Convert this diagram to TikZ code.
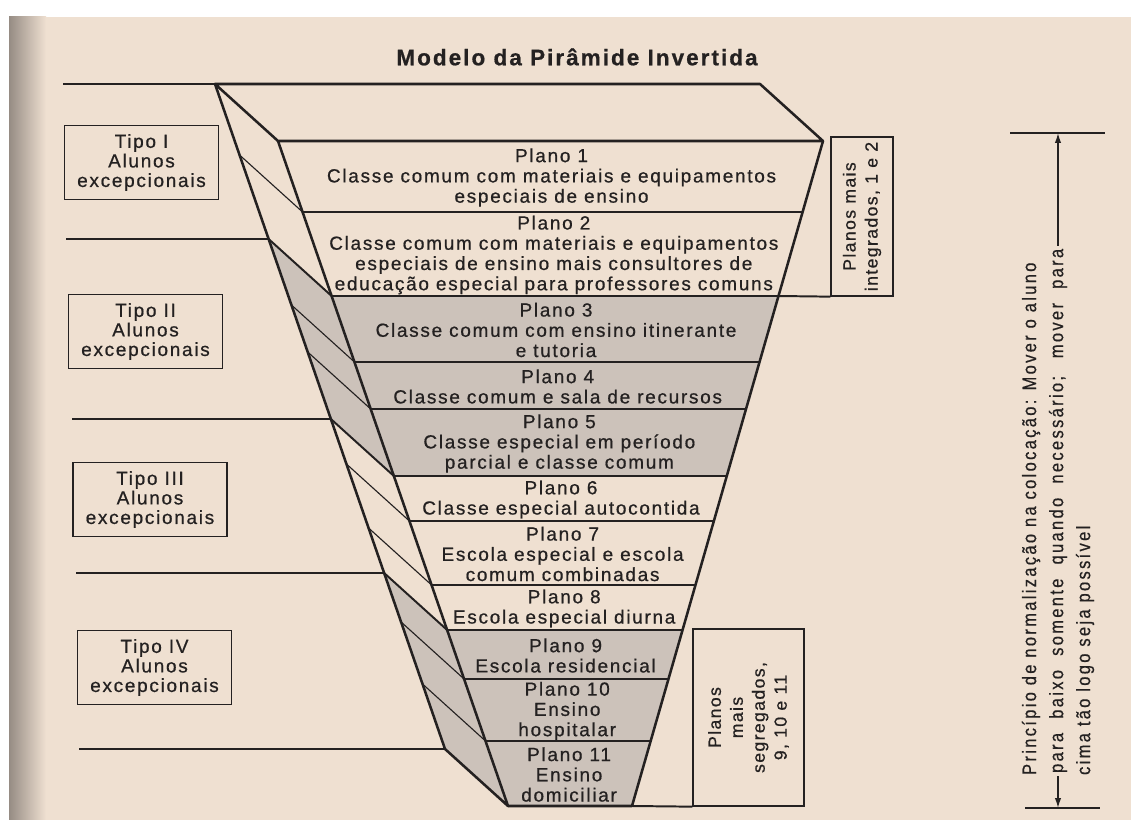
\documentclass[tikz,border=0pt]{standalone}
\usepackage{fontspec}
\setmainfont{Liberation Sans}[LetterSpace=9,FakeBold=0.7]
\newfontfamily\boxfont{Liberation Sans}[LetterSpace=8,FakeBold=0.7]
\newfontfamily\notefont{Liberation Sans}[LetterSpace=12,FakeStretch=0.85,FakeBold=0.5]
\usetikzlibrary{arrows.meta}
\definecolor{paper}{RGB}{239,224,209}
\definecolor{binding}{RGB}{150,140,132}
\definecolor{grayband}{RGB}{204,194,186}
\definecolor{ink}{RGB}{36,33,33}

\begin{document}
\begin{tikzpicture}[x=0.025cm, y=-0.025cm,
  every node/.style={inner sep=0pt, text=ink, align=center},
  edge/.style={draw=ink, line width=1.8pt, line join=round, line cap=round},
  sep/.style={draw=ink, line width=1.4pt},
  thinsep/.style={draw=ink, line width=0.9pt},
  link/.style={draw=ink, line width=0.8pt},
  band/.style={fill=grayband},
  planotext/.style={font=\fontsize{13.5}{14.4}\selectfont},
  tipobox/.style={draw=ink, line width=0.9pt, minimum width=3.85cm, minimum height=1.85cm, font=\fontsize{13.5}{13.9}\selectfont},
  planosbox/.style={draw=ink, line width=0.9pt, rotate=90, font=\boxfont\fontsize{12.5}{15.6}\selectfont},
  notetext/.style={rotate=90, font=\notefont\fontsize{13.8}{14}\selectfont, inner sep=2pt},
  movearrow/.style={draw=ink, line width=1pt, -{Latex[length=7pt,width=4.5pt]}},
]
\useasboundingbox (0,0) rectangle (1131,820);
\fill[paper] (0,0) rectangle (1131,820);
\fill[white] (0,0) rectangle (1131,17);
\fill[white] (0,17) rectangle (9,820);
\shade[left color=binding, right color=paper] (9,17) rectangle (46,820);

\node[font=\bfseries\fontsize{16}{19}\selectfont] (title) at (577,57) {Modelo da Pirâmide Invertida};

\coordinate (tb) at (215,84);
\coordinate (tr) at (760,84);
\coordinate (fl) at (278,141);
\coordinate (fr) at (823,141);
\coordinate (bl) at (508,806);
\coordinate (br) at (632,806);
\coordinate (bb) at (445,749);

\foreach \t/\b/\s/\txt [count=\i] in {
  141/212/0/{Plano 1\\Classe comum com materiais e equipamentos\\especiais de ensino},
  212/296/0/{Plano 2\\Classe comum com materiais e equipamentos\\especiais de ensino mais consultores de\\educação especial para professores comuns},
  296/362/1/{Plano 3\\Classe comum com ensino itinerante\\e tutoria},
  362/409/1/{Plano 4\\Classe comum e sala de recursos},
  409/476/1/{Plano 5\\Classe especial em período\\parcial e classe comum},
  476/521/0/{Plano 6\\Classe especial autocontida},
  521/585/0/{Plano 7\\Escola especial e escola\\comum combinadas},
  585/630/0/{Plano 8\\Escola especial diurna},
  630/679/1/{Plano 9\\Escola residencial},
  679/741/1/{Plano 10\\Ensino\\hospitalar},
  741/806/1/{Plano 11\\Ensino\\domiciliar}}{
  \pgfmathsetmacro\lt{278+0.3459*(\t-141)}
  \pgfmathsetmacro\rt{823-0.2872*(\t-141)}
  \pgfmathsetmacro\lb{278+0.3459*(\b-141)}
  \pgfmathsetmacro\rb{823-0.2872*(\b-141)}
  \ifnum\s=1
    \fill[band] (\lt-63,\t-57) -- (\lt,\t) -- (\rt,\t) -- (\rb,\b) -- (\lb,\b) -- (\lb-63,\b-57) -- cycle;
  \fi
  \node[planotext] (plano\i) at ({(\lt+\rt+\lb+\rb)/4},{(\t+\b)/2+1}) {\txt};
}

\foreach \y/\f/\d in {212/thinsep/link, 296/sep/sep, 362/thinsep/link, 409/thinsep/link,
  476/sep/sep, 521/thinsep/link, 585/thinsep/link, 630/sep/sep, 679/thinsep/link, 741/thinsep/link}{
  \pgfmathsetmacro\l{278+0.3459*(\y-141)}
  \pgfmathsetmacro\r{823-0.2872*(\y-141)}
  \draw[\d] (\l-63,\y-57) -- (\l,\y);
  \draw[\f] (\l,\y) -- (\r,\y);
}

\draw[edge] (fl) -- (tb) -- (tr) -- (fr) -- cycle;
\draw[edge] (tb) -- (bb) -- (bl) -- (fl);
\draw[edge] (fr) -- (br) -- (bl);

\coordinate (k1) at (268.6,239);
\coordinate (k2) at (330.9,419);
\coordinate (k3) at (384.1,573);
\draw[link] (63,84) -- (tb);
\draw[link] (66,239) -- (k1);
\draw[link] (72,419) -- (k2);
\draw[link] (76,573) -- (k3);
\draw[link] (79,749) -- (bb);

\node[tipobox] (tipo1) at (141.5,162.5) {Tipo I\\Alunos\\excepcionais};
\node[tipobox] (tipo2) at (145.5,331.5) {Tipo II\\Alunos\\excepcionais};
\node[tipobox] (tipo3) at (150,499.5) {Tipo III\\Alunos\\excepcionais};
\node[tipobox] (tipo4) at (154.5,667.5) {Tipo IV\\Alunos\\excepcionais};

\node[planosbox, minimum width=3.975cm, minimum height=1.55cm] (integ) at (862,216.5) {Planos mais\\integrados, 1 e 2};
\node[planosbox, minimum width=4.425cm, minimum height=2.775cm] (segreg) at (748.5,717.5) {Planos\\mais\\segregados,\\9, 10 e 11};
\draw[sep] (778.5,296) -- (integ.north west);
\draw[sep] (br) -- (segreg.north west);

\draw[link] (1010,133) -- (1105,133);
\draw[link] (1025,808) -- (1100,808);
\node[notetext, anchor=west] (nota1) at (1031,778) {Princípio de normalização na colocação: Mover o aluno};
\node[notetext, anchor=west] (nota2) at (1058,776) {\makebox[13.1cm][s]{para baixo somente quando necessário; mover para}};
\node[notetext, anchor=west] (nota3) at (1085,778) {cima tão logo seja possível};
\coordinate (atop) at (1058,133);
\coordinate (abot) at (1058,808);
\draw[movearrow] (nota2.east) -- (atop);
\draw[movearrow] (nota2.west) -- (abot);
\end{tikzpicture}
\end{document}
